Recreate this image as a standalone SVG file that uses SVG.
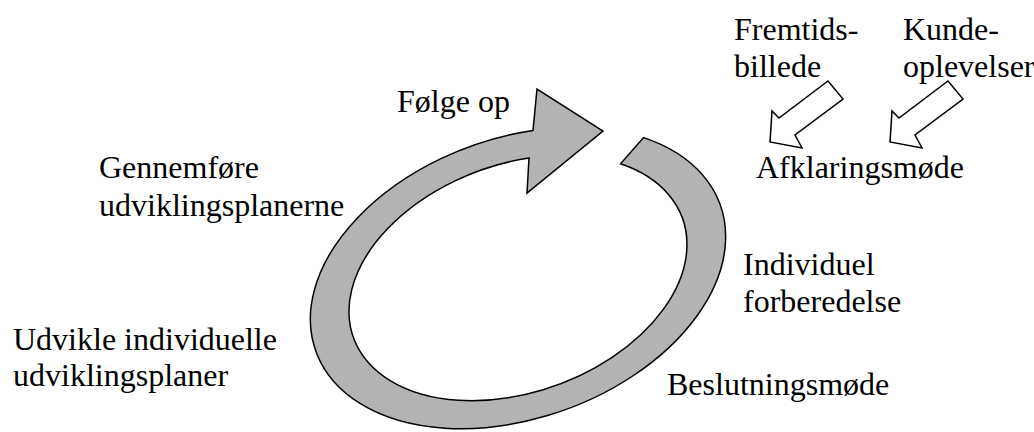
<svg xmlns="http://www.w3.org/2000/svg" width="1034" height="432" viewBox="0 0 1034 432">
<style>
.t{font-family:"Liberation Serif","Times New Roman",serif;font-size:32px;fill:#000}
.ring{fill:#b3b3b3;stroke:#000;stroke-width:1.5;stroke-linejoin:miter}
.hol{fill:#fff;stroke:#000;stroke-width:1.5}
</style>
<rect width="1034" height="432" fill="#fff"/>
<g id="cycle">
<path class="ring" d="M533,130.4 L537,89 L603,131 L527,193 L529,158 A175,114 -20 1 0 620.5,163.8 L643.6,137.6 A215,140 -20 1 1 533,130.4 Z"/>
</g>
<g id="connectors">
<polygon class="hol" points="828,81 843,99 795,135 802,148 770,142 772,111 779,118"/>
<polygon class="hol" points="948,81 963,99 915,135 922,148 890,142 892,111 899,118"/>
</g>
<g id="folge"><text class="t" x="397" y="112">Følge op</text></g>
<g id="gennemfore"><text class="t" x="99" y="178">Gennemføre</text><text class="t" x="99" y="216">udviklingsplanerne</text></g>
<g id="udvikle"><text class="t" x="13" y="350">Udvikle individuelle</text><text class="t" x="13" y="386">udviklingsplaner</text></g>
<g id="beslutning"><text class="t" x="667" y="395">Beslutningsmøde</text></g>
<g id="individuel"><text class="t" x="743" y="275">Individuel</text><text class="t" x="743" y="312">forberedelse</text></g>
<g id="afklaring"><text class="t" x="756" y="178">Afklaringsmøde</text></g>
<g id="fremtid"><text class="t" x="734" y="40">Fremtids-</text><text class="t" x="734" y="77">billede</text></g>
<g id="kunde"><text class="t" x="903" y="40">Kunde-</text><text class="t" x="903" y="77">oplevelser</text></g>
</svg>
